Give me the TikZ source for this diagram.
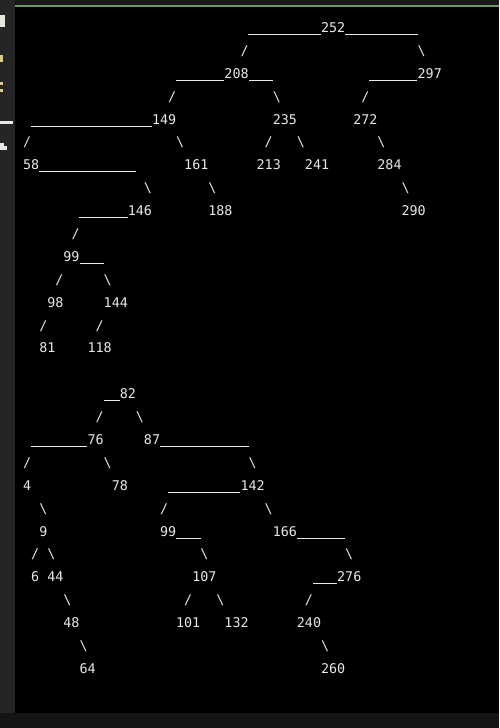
\documentclass[tikz,border=0pt]{standalone}
\usepackage{fontspec}
\newfontfamily\termfont{DejaVu Sans Mono}
\newcommand{\termsize}{\termfont\fontsize{13.37pt}{16pt}\selectfont}
\definecolor{termbg}{RGB}{0,0,0}
\definecolor{termfg}{RGB}{232,232,232}
\definecolor{sidebar}{RGB}{37,37,38}
\definecolor{topbar}{RGB}{24,24,24}
\definecolor{tabline}{RGB}{106,150,100}
\definecolor{statusbar}{RGB}{20,20,20}
\definecolor{peekyel}{RGB}{222,200,130}
\tikzset{
    num/.style={anchor=base west, inner sep=0pt, font=\termsize, text=termfg},
    under/.style={draw=termfg, line width=1pt},
}
\begin{document}
\begin{tikzpicture}[x=8.05pt, y={(0pt,-22.89pt)}]
    % Window frame
    \useasboundingbox (-23pt,32.5pt) rectangle (476pt,-695.5pt);
    \fill[termbg] (-23pt,32.5pt) rectangle (476pt,-695.5pt);
    \fill[sidebar] (-23pt,32.5pt) rectangle (-8pt,-680.5pt);
    \fill[topbar] (-8pt,32.5pt) rectangle (476pt,27.8pt);
    \fill[tabline] (-8pt,27.8pt) rectangle (476pt,25.6pt);
    \fill[statusbar] (-23pt,-680.5pt) rectangle (476pt,-695.5pt);

    % Letters cut off at the left edge
    \fill[termfg!90!peekyel] (-23pt,17.5pt) rectangle (-17.5pt,5.5pt);
    \fill[peekyel] (-23pt,-22.5pt) rectangle (-19.5pt,-29.5pt);
    \fill[peekyel] (-23pt,-49.5pt) rectangle (-19.5pt,-52.5pt);
    \fill[peekyel] (-23pt,-56.5pt) rectangle (-19.5pt,-59.5pt);
    \fill[termfg] (-23pt,-88.5pt) rectangle (-10pt,-91pt);
    \fill[termfg] (-23pt,-110.5pt) rectangle (-19pt,-117.5pt);
    \fill[termfg] (-19pt,-113.5pt) rectangle (-15.5pt,-117.5pt);

    % Upper tree
    \node[num] (a252) at (37,0) {252};
    \draw[under] ([yshift=-2pt]a252.base west) -- ++(-9,0);
    \draw[under] ([yshift=-2pt]a252.base east) -- ++(9,0);
    \node[num] (a252-l) at (27,1) {/};
    \node[num] (a252-r) at (49,1) {\textbackslash};

    \node[num] (a208) at (25,2) {208};
    \draw[under] ([yshift=-2pt]a208.base west) -- ++(-6,0);
    \draw[under] ([yshift=-2pt]a208.base east) -- ++(3,0);
    \node[num] (a297) at (49,2) {297};
    \draw[under] ([yshift=-2pt]a297.base west) -- ++(-6,0);
    \node[num] (a208-l) at (18,3) {/};
    \node[num] (a208-r) at (31,3) {\textbackslash};
    \node[num] (a297-l) at (42,3) {/};

    \node[num] (a149) at (16,4) {149};
    \draw[under] ([yshift=-2pt]a149.base west) -- ++(-15,0);
    \node[num] (a235) at (31,4) {235};
    \node[num] (a272) at (41,4) {272};
    \node[num] (a149-l) at (0,5) {/};
    \node[num] (a149-r) at (19,5) {\textbackslash};
    \node[num] (a235-l) at (30,5) {/};
    \node[num] (a235-r) at (34,5) {\textbackslash};
    \node[num] (a272-r) at (44,5) {\textbackslash};

    \node[num] (a58) at (0,6) {58};
    \draw[under] ([yshift=-2pt]a58.base east) -- ++(12,0);
    \node[num] (a161) at (20,6) {161};
    \node[num] (a213) at (29,6) {213};
    \node[num] (a241) at (35,6) {241};
    \node[num] (a284) at (44,6) {284};
    \node[num] (a58-r) at (15,7) {\textbackslash};
    \node[num] (a161-r) at (23,7) {\textbackslash};
    \node[num] (a284-r) at (47,7) {\textbackslash};

    \node[num] (a146) at (13,8) {146};
    \draw[under] ([yshift=-2pt]a146.base west) -- ++(-6,0);
    \node[num] (a188) at (23,8) {188};
    \node[num] (a290) at (47,8) {290};
    \node[num] (a146-l) at (6,9) {/};

    \node[num] (a99) at (5,10) {99};
    \draw[under] ([yshift=-2pt]a99.base east) -- ++(3,0);
    \node[num] (a99-l) at (4,11) {/};
    \node[num] (a99-r) at (10,11) {\textbackslash};
    \node[num] (a98) at (3,12) {98};
    \node[num] (a144) at (10,12) {144};
    \node[num] (a98-l) at (2,13) {/};
    \node[num] (a144-l) at (9,13) {/};
    \node[num] (a81) at (2,14) {81};
    \node[num] (a118) at (8,14) {118};

    % Lower tree
    \begin{scope}[shift={(0,16)}]
        \node[num] (b82) at (12,0) {82};
        \draw[under] ([yshift=-2pt]b82.base west) -- ++(-2,0);
        \node[num] (b82-l) at (9,1) {/};
        \node[num] (b82-r) at (14,1) {\textbackslash};

        \node[num] (b76) at (8,2) {76};
        \draw[under] ([yshift=-2pt]b76.base west) -- ++(-7,0);
        \node[num] (b87) at (15,2) {87};
        \draw[under] ([yshift=-2pt]b87.base east) -- ++(11,0);
        \node[num] (b76-l) at (0,3) {/};
        \node[num] (b76-r) at (10,3) {\textbackslash};
        \node[num] (b87-r) at (28,3) {\textbackslash};

        \node[num] (b4) at (0,4) {4};
        \node[num] (b78) at (11,4) {78};
        \node[num] (b142) at (27,4) {142};
        \draw[under] ([yshift=-2pt]b142.base west) -- ++(-9,0);
        \node[num] (b4-r) at (2,5) {\textbackslash};
        \node[num] (b142-l) at (17,5) {/};
        \node[num] (b142-r) at (30,5) {\textbackslash};

        \node[num] (b9) at (2,6) {9};
        \node[num] (b99) at (17,6) {99};
        \draw[under] ([yshift=-2pt]b99.base east) -- ++(3,0);
        \node[num] (b166) at (31,6) {166};
        \draw[under] ([yshift=-2pt]b166.base east) -- ++(6,0);
        \node[num] (b9-l) at (1,7) {/};
        \node[num] (b9-r) at (3,7) {\textbackslash};
        \node[num] (b99-r) at (22,7) {\textbackslash};
        \node[num] (b166-r) at (40,7) {\textbackslash};

        \node[num] (b6) at (1,8) {6};
        \node[num] (b44) at (3,8) {44};
        \node[num] (b107) at (21,8) {107};
        \node[num] (b276) at (39,8) {276};
        \draw[under] ([yshift=-2pt]b276.base west) -- ++(-3,0);
        \node[num] (b44-r) at (5,9) {\textbackslash};
        \node[num] (b107-l) at (20,9) {/};
        \node[num] (b107-r) at (24,9) {\textbackslash};
        \node[num] (b276-l) at (35,9) {/};

        \node[num] (b48) at (5,10) {48};
        \node[num] (b101) at (19,10) {101};
        \node[num] (b132) at (25,10) {132};
        \node[num] (b240) at (34,10) {240};
        \node[num] (b48-r) at (7,11) {\textbackslash};
        \node[num] (b240-r) at (37,11) {\textbackslash};
        \node[num] (b64) at (7,12) {64};
        \node[num] (b260) at (37,12) {260};
    \end{scope}
\end{tikzpicture}
\end{document}
